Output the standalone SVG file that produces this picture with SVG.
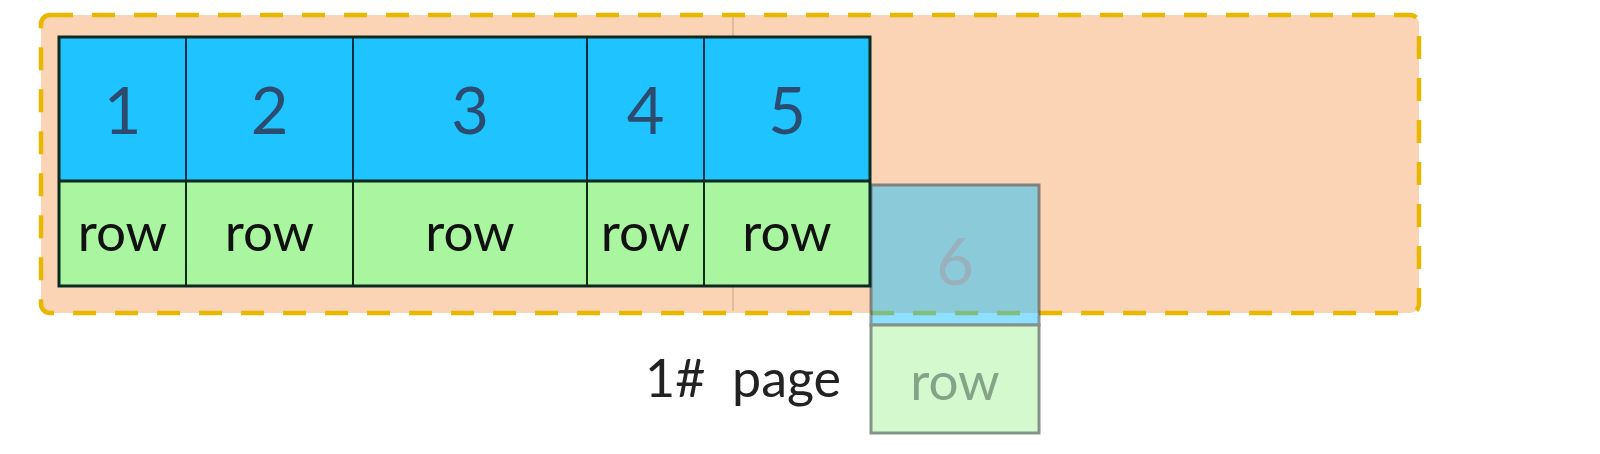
<svg xmlns="http://www.w3.org/2000/svg" width="1600" height="454" viewBox="0 0 1600 454">
<style>
.num{font-family:Lato,"Liberation Sans",sans-serif;font-size:65px;fill:#2B4C6F;text-anchor:middle}
.row{font-family:Lato,"Liberation Sans",sans-serif;font-size:53px;fill:#111;text-anchor:middle}
.blue{fill:#1EC3FF;stroke:#0B2F45;stroke-width:2}
.green{fill:#AAF5A0;stroke:#0C2A12;stroke-width:2}
.lbl{font-family:Lato,"Liberation Sans",sans-serif;font-size:52px;fill:#222}
</style>
<rect width="1600" height="454" fill="#ffffff"/>
<g id="page">
<rect x="41" y="15" width="1378" height="298" rx="9" fill="#FAD4B4" stroke="#E8B800" stroke-width="4.5" stroke-dasharray="23 19"/>
<line x1="733" y1="17" x2="733" y2="311" stroke="#C4A48C" stroke-width="1"/>
</g>
<g id="cell1">
<rect class="blue" x="59" y="37" width="127" height="144"/>
<rect class="green" x="59" y="181" width="127" height="105"/>
<text class="num" x="122.5" y="134">1</text>
<text class="row" x="122.5" y="251">row</text>
</g>
<g id="cell2">
<rect class="blue" x="186" y="37" width="167" height="144"/>
<rect class="green" x="186" y="181" width="167" height="105"/>
<text class="num" x="269.5" y="134">2</text>
<text class="row" x="269.5" y="251">row</text>
</g>
<g id="cell3">
<rect class="blue" x="353" y="37" width="234" height="144"/>
<rect class="green" x="353" y="181" width="234" height="105"/>
<text class="num" x="470" y="134">3</text>
<text class="row" x="470" y="251">row</text>
</g>
<g id="cell4">
<rect class="blue" x="587" y="37" width="117" height="144"/>
<rect class="green" x="587" y="181" width="117" height="105"/>
<text class="num" x="645.5" y="134">4</text>
<text class="row" x="645.5" y="251">row</text>
</g>
<g id="cell5">
<rect class="blue" x="704" y="37" width="166" height="144"/>
<rect class="green" x="704" y="181" width="166" height="105"/>
<text class="num" x="787" y="134">5</text>
<text class="row" x="787" y="251">row</text>
</g>
<g id="table-border" fill="none" stroke="#0B2A20">
<rect x="59" y="37" width="811" height="249" stroke-width="3"/>
<line x1="59" y1="181" x2="870" y2="181" stroke-width="3"/>
</g>
<g id="cell6" opacity="0.5">
<rect x="871" y="185" width="168" height="140" fill="#1EC3FF" stroke="#0B2F45" stroke-width="3"/>
<rect x="871" y="325" width="168" height="108" fill="#AAF5A0" stroke="#0C2A12" stroke-width="3"/>
<text class="num" x="955" y="285" style="fill:#4A6FA0" opacity="0.6">6</text>
<text class="row" x="955" y="400" style="fill:#0E4A12">row</text>
</g>
<g id="label">
<text class="lbl" x="645" y="397">1#</text>
<text class="lbl" x="732" y="397">page</text>
</g>
</svg>
